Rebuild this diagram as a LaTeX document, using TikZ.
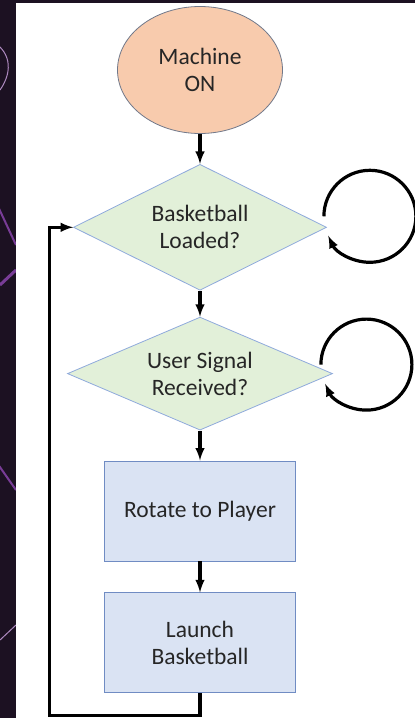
\documentclass[tikz,border=0pt]{standalone}
\usepackage{xcolor}
\usepackage{fontspec}
\setmainfont{Carlito}
\usepackage{tikz}
\usetikzlibrary{shapes.geometric, arrows, positioning}
\definecolor{backdrop}{RGB}{28, 17, 34}
\definecolor{swirl}{RGB}{120, 60, 150}
\definecolor{startfill}{RGB}{248, 203, 173}
\definecolor{startline}{RGB}{112, 120, 138}
\definecolor{askfill}{RGB}{226, 240, 217}
\definecolor{askline}{RGB}{143, 170, 220}
\definecolor{stepfill}{RGB}{218, 227, 243}
\definecolor{stepline}{RGB}{112, 140, 195}
\definecolor{ink}{RGB}{38, 38, 38}

\begin{document}
\begin{tikzpicture}[
    font=\fontsize{23.5}{27}\selectfont,
    start/.style={ellipse, draw=startline, fill=startfill, line width=0.8pt, minimum width=165pt, minimum height=127pt, inner sep=0pt, align=center, text=ink},
    decision/.style={diamond, aspect=2, draw=askline, fill=askfill, line width=0.8pt, inner sep=0pt, align=center, text=ink},
    stepbox/.style={rectangle, draw=stepline, fill=stepfill, line width=0.8pt, minimum width=191pt, minimum height=100pt, align=center, text=ink},
    arrow/.style={->, line width=3.2pt, >=latex}
]
    % page and dark backdrop
    \fill[backdrop] (0,0) rectangle (415pt,-718pt);
    \begin{scope}
        \clip (0,0) rectangle (16pt,-718pt);
        \draw[swirl!60, line width=1pt] (-10pt,-40pt) .. controls (10pt,-50pt) and (14pt,-70pt) .. (0pt,-90pt);
        \draw[swirl, line width=2pt] (-5pt,-200pt) -- (16pt,-245pt);
        \draw[swirl, line width=3pt] (0pt,-285pt) -- (16pt,-270pt);
        \draw[swirl, line width=2pt] (-5pt,-460pt) -- (16pt,-490pt);
        \draw[swirl!60, line width=1pt] (0pt,-640pt) -- (16pt,-625pt);
    \end{scope}
    \fill[white] (16pt,-3pt) rectangle (415pt,-718pt);
    \useasboundingbox (0,0) rectangle (415pt,-718pt);

    \node[start] (on) at (200pt,-70pt) {Machine\\ON};
    \node[decision, minimum width=253pt, minimum height=126pt, below=30pt of on] (load) {Basketball\\Loaded?};
    \node[decision, minimum width=265pt, minimum height=113pt, below=26pt of load] (signal) {User Signal\\Received?};
    \node[stepbox, below=30pt of signal] (rotate) {Rotate to Player};
    \node[stepbox, below=31pt of rotate] (launch) {Launch\\Basketball};

    \draw[arrow] (on) -- (load);
    \draw[arrow] (load) -- (signal);
    \draw[arrow] (signal) -- (rotate);
    \draw[arrow] (rotate) -- (launch);

    % wait loops
    \draw[arrow] ([xshift=-3pt,yshift=11pt]load.east) arc[start angle=180, end angle=-155, radius=46pt];
    \draw[arrow] ([xshift=-12pt,yshift=9pt]signal.east) arc[start angle=180, end angle=-155, radius=45.5pt];

    % back to the start
    \draw[arrow] (launch.south) -- ++(0,-22pt) -| ([xshift=-24pt]load.west) -- (load.west);
\end{tikzpicture}
\end{document}
